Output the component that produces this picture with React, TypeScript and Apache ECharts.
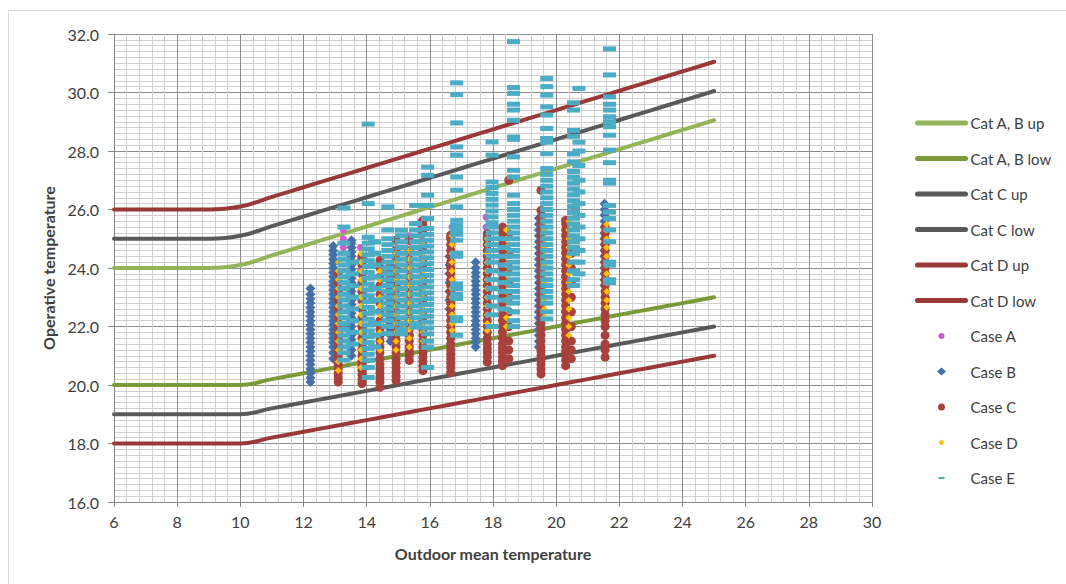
import React, { useEffect, useRef } from "react";
import * as echarts from "echarts";

// ---- Comfort category lines (x = outdoor running mean temperature) ----
const lineX = [6, 7, 8, 9, 10, 11, 12, 13, 14, 15, 16, 17, 18, 19, 20, 21, 22, 23, 24, 25];
const catABup = [24, 24, 24, 24, 24.1, 24.43, 24.76, 25.09, 25.42, 25.75, 26.08, 26.41, 26.74, 27.07, 27.4, 27.73, 28.06, 28.39, 28.72, 29.05];
const catABlow = [20, 20, 20, 20, 20, 20.2, 20.4, 20.6, 20.8, 21.0, 21.2, 21.4, 21.6, 21.8, 22.0, 22.2, 22.4, 22.6, 22.8, 23.0];
const catCup = [25, 25, 25, 25, 25.1, 25.43, 25.76, 26.09, 26.42, 26.75, 27.08, 27.41, 27.74, 28.07, 28.4, 28.73, 29.06, 29.39, 29.72, 30.05];
const catClow = [19, 19, 19, 19, 19, 19.2, 19.4, 19.6, 19.8, 20.0, 20.2, 20.4, 20.6, 20.8, 21.0, 21.2, 21.4, 21.6, 21.8, 22.0];
const catDup = [26, 26, 26, 26, 26.1, 26.43, 26.76, 27.09, 27.42, 27.75, 28.08, 28.41, 28.74, 29.07, 29.4, 29.73, 30.06, 30.39, 30.72, 31.05];
const catDlow = [18, 18, 18, 18, 18, 18.2, 18.4, 18.6, 18.8, 19.0, 19.2, 19.4, 19.6, 19.8, 20.0, 20.2, 20.4, 20.6, 20.8, 21.0];

// ---- Measured cases: [outdoor mean temperature, operative temperatures] ----
type Col = [number, number[]];

const caseA: Col[] = [
  [13.26, [25.3, 25.0, 24.7]],
  [13.8, [24.7, 24.3, 23.9]],
  [13.95, [24.26]],
  [14.5, [24.0, 23.9]],
  [15.35, [25.1, 24.9]],
  [15.72, [25.6, 25.4, 25.2]],
  [16.7, [25.4, 25.2]],
  [17.78, [25.74, 25.4, 25.06]],
];

const caseB: Col[] = [
  [12.22, [20.1, 20.25, 20.4, 20.55, 20.7, 20.85, 21.0, 21.15, 21.3, 21.45, 21.6, 21.75, 21.9, 22.05, 22.2, 22.35, 22.5, 22.65, 22.8, 22.95, 23.1, 23.3]],
  [12.94, [20.9, 21.1, 21.3, 21.45, 21.6, 21.75, 21.9, 22.05, 22.2, 22.35, 22.5, 22.65, 22.8, 22.95, 23.1, 23.25, 23.4, 23.55, 23.7, 23.85, 24.0, 24.15, 24.3, 24.45, 24.6, 24.75]],
  [13.52, [21.0, 21.2, 21.4, 21.55, 21.7, 21.85, 22.0, 22.15, 22.3, 22.45, 22.6, 22.75, 22.9, 23.05, 23.2, 23.35, 23.5, 23.65, 23.8, 23.95, 24.1, 24.25, 24.4, 24.55, 24.7, 24.85, 24.95]],
  [14.75, [21.5, 21.7, 21.9, 22.1, 22.3, 22.5, 22.7, 22.9, 23.1, 23.3, 23.5, 23.7, 23.9, 24.1]],
  [16.62, [22.6, 22.9, 23.2, 23.5, 23.8, 24.1, 24.4]],
  [17.45, [21.3, 21.45, 21.6, 21.75, 21.9, 22.05, 22.2, 22.35, 22.5, 22.65, 22.8, 22.95, 23.1, 23.25, 23.4, 23.55, 23.7, 23.85, 24.0, 24.2]],
  [19.45, [21.3, 21.5, 21.7, 21.9, 22.1, 22.3, 22.5, 22.7, 22.9, 23.1, 23.3, 23.5, 23.7, 23.9, 24.1, 24.3, 24.5, 24.7, 24.9, 25.1, 25.3, 25.5, 25.7]],
  [21.53, [23.4, 23.6, 23.8, 24.0, 24.2, 24.4, 24.6, 24.8, 25.0, 25.2, 25.4, 25.6, 25.8, 26.0, 26.2]],
];

const caseC: Col[] = [
  [13.1, [20.1, 20.25, 20.4, 20.55, 20.7, 20.85, 21.0, 21.2, 21.4, 21.6, 21.8, 22.0, 22.3, 22.6, 22.9, 23.2, 23.5, 23.8]],
  [13.85, [20.05, 20.2, 20.35, 20.5, 20.65, 20.8, 21.0, 21.2, 21.4, 21.6, 21.8, 22.0, 22.3, 22.6, 22.9, 23.2, 23.5, 23.8, 24.1, 24.4]],
  [14.42, [19.92, 20.1, 20.25, 20.4, 20.55, 20.7, 20.9, 21.1, 21.3, 21.5, 21.7, 21.9, 22.2, 22.5, 22.8, 23.1, 23.4, 23.7, 24.0, 24.26]],
  [14.93, [20.15, 20.3, 20.45, 20.6, 20.75, 20.9, 21.1, 21.3, 21.5, 21.7, 21.9, 22.2, 22.5, 22.8, 23.1, 23.4, 23.7, 24.0, 24.3, 24.6, 24.95]],
  [15.35, [20.84, 21.0, 21.15, 21.3, 21.5, 21.7, 21.9, 22.2, 22.5, 22.8, 23.1, 23.4, 23.7, 24.0, 24.3, 24.6, 24.95]],
  [15.78, [20.49, 20.65, 20.8, 20.95, 21.1, 21.3, 21.5, 21.7, 21.9, 22.2, 22.5, 22.8, 23.1, 23.4, 23.7, 24.0, 24.3, 24.6, 24.9, 25.2, 25.45, 25.63]],
  [16.66, [20.43, 20.6, 20.75, 20.9, 21.05, 21.2, 21.4, 21.6, 21.8, 22.0, 22.2, 22.4, 22.6, 22.8, 23.0, 23.2, 23.4, 23.6, 23.8, 24.0, 24.2, 24.4, 24.6, 24.8, 25.0, 25.12]],
  [17.82, [20.78, 20.95, 21.1, 21.25, 21.4, 21.6, 21.8, 22.0, 22.2, 22.4, 22.6, 22.8, 23.0, 23.2, 23.4, 23.6, 23.8, 24.0, 24.2, 24.4, 24.6, 24.8, 25.0, 25.18]],
  [18.3, [20.66, 20.8, 20.95, 21.1, 21.25, 21.4, 21.6, 21.8, 22.0, 22.2, 22.4, 22.6, 22.8, 23.0, 23.2, 23.4, 23.6, 23.8, 24.0, 24.2, 24.4, 24.6, 24.8, 25.0, 25.2, 25.4]],
  [18.5, [20.9, 21.2, 21.5, 22.0, 22.5, 23.0, 23.5, 24.0, 24.5, 25.17, 27.0]],
  [19.52, [20.38, 20.55, 20.7, 20.85, 21.0, 21.15, 21.3, 21.5, 21.7, 21.9, 22.1, 22.3, 22.5, 22.7, 22.9, 23.1, 23.3, 23.5, 23.7, 23.9, 24.1, 24.3, 24.5, 24.7, 24.9, 25.1, 25.3, 25.5, 25.7, 25.97, 26.66]],
  [20.3, [20.66, 20.85, 21.0, 21.15, 21.3, 21.5, 21.7, 21.9, 22.1, 22.3, 22.5, 22.7, 22.9, 23.1, 23.3, 23.5, 23.7, 23.9, 24.1, 24.3, 24.5, 24.7, 24.9, 25.1, 25.3, 25.5, 25.63]],
  [20.48, [20.9, 21.2, 21.5, 22.0, 22.5, 23.0, 23.5, 24.0, 24.5, 25.0]],
  [21.55, [20.95, 21.2, 21.4, 21.7, 22.0, 22.2, 22.4, 22.6, 22.8, 23.0, 23.2, 23.4, 23.6, 23.8, 24.0, 24.2, 24.4, 24.6, 24.8, 25.0, 25.2, 25.4]],
];

const caseD: Col[] = [
  [13.1, [20.5, 20.8, 21.2, 21.5, 21.8, 22.1, 22.4, 22.7, 23.0, 23.3, 23.6, 23.9, 24.2]],
  [13.82, [20.6, 20.9, 21.2, 21.5, 21.8, 22.1, 22.4, 22.7, 23.0, 23.3, 23.6, 23.9, 24.2, 24.5]],
  [14.42, [21.2, 21.5, 21.8, 22.1, 22.4, 22.7, 23.0, 23.3, 23.6, 23.9]],
  [14.93, [21.2, 21.5, 21.8, 22.1, 22.4, 22.7, 23.0, 23.3, 23.6, 23.9, 24.2, 24.5]],
  [15.35, [21.3, 21.6, 21.9, 22.2, 22.5, 22.8, 23.1, 23.4, 23.7, 24.0, 24.3, 24.6]],
  [15.78, [21.5, 21.8, 22.1, 22.4, 22.7, 23.0, 23.3, 23.6, 23.9, 24.2, 24.5, 24.8]],
  [16.7, [21.86, 22.1, 22.4, 22.7, 23.0, 23.3, 23.6, 23.9, 24.2, 24.5, 24.8, 25.1]],
  [17.82, [21.86, 22.1, 22.4, 22.7, 23.0, 23.3, 23.6, 23.9, 24.2, 24.5, 24.8, 25.0]],
  [18.42, [22.0, 22.3, 22.6, 22.9, 23.2, 23.5, 23.8, 24.1, 24.4, 24.7, 25.0, 25.3]],
  [19.62, [22.32, 22.6, 22.9, 23.2, 23.5, 23.8, 24.1, 24.4, 24.7, 25.0, 25.3, 25.6]],
  [20.4, [21.7, 22.0, 22.3, 22.6, 22.9, 23.2, 23.5, 23.8, 24.1, 24.4, 24.7, 25.0, 25.3, 25.6]],
  [21.6, [22.66, 22.9, 23.2, 23.5, 23.8, 24.1, 24.4, 24.7, 25.0, 25.3, 25.5]],
];

const caseE: Col[] = [
  [13.28, [26.05, 25.4, 24.85, 24.5, 24.3, 24.1, 23.9, 23.7, 23.5, 23.3, 23.1, 22.9, 22.7, 22.5, 22.3, 22.1, 21.9, 21.7, 21.5, 21.3, 21.1, 20.85]],
  [13.55, [24.2, 23.8, 23.4, 23.0, 22.6, 22.2, 21.8, 21.4]],
  [14.05, [28.92, 26.2, 25.05, 24.85, 24.65, 24.45, 24.25, 24.05, 23.85, 23.65, 23.45, 23.25, 23.05, 22.85, 22.65, 22.45, 22.25, 22.05, 21.85, 21.65, 21.45, 21.25, 21.05, 20.85, 20.6, 20.26]],
  [14.25, [24.9, 24.5, 24.1, 23.7, 23.3, 22.9, 22.5, 22.1, 21.7, 21.3]],
  [14.67, [26.09, 25.3, 25.0, 24.8, 24.6, 24.4, 24.2, 24.0, 23.8, 23.6, 23.4, 23.2, 23.0, 22.8, 22.6, 22.4, 22.2, 22.0, 21.76]],
  [15.1, [25.29, 25.1, 24.9, 24.7, 24.5, 24.3, 24.1, 23.9, 23.7, 23.5, 23.3, 23.1, 22.9, 22.7, 22.5, 22.3, 22.1, 21.9, 21.75]],
  [15.55, [26.14, 25.52, 25.3, 25.1, 24.9, 24.7, 24.5, 24.3, 24.1, 23.9, 23.7, 23.5, 23.3, 23.1, 22.9, 22.7, 22.5, 22.3, 22.1, 21.98]],
  [15.93, [27.45, 27.17, 26.49, 26.14, 25.69, 25.35, 25.15, 24.95, 24.75, 24.55, 24.35, 24.15, 23.95, 23.75, 23.55, 23.35, 23.15, 22.95, 22.75, 22.55, 22.35, 22.15, 21.95, 21.75, 21.5, 21.29, 20.6]],
  [16.85, [30.33, 29.93, 28.96, 28.14, 27.86, 27.11, 26.66, 26.09, 25.63, 25.46, 25.3, 25.15, 24.95, 24.5, 24.4, 23.46, 23.3, 23.1, 22.96, 22.3, 22.2, 21.7]],
  [17.97, [28.31, 27.86, 26.94, 26.75, 26.55, 26.35, 26.15, 25.95, 25.75, 25.55, 25.4, 25.2, 25.0, 24.8, 24.6, 24.4, 24.2, 23.9, 23.6, 23.3, 23.0, 22.7, 22.4, 22.0]],
  [18.35, [25.0, 24.7, 24.4, 24.1, 23.8, 23.5, 23.2, 22.9, 22.6]],
  [18.65, [31.74, 30.17, 29.97, 29.6, 29.4, 29.05, 28.48, 28.4, 27.8, 27.34, 27.11, 26.49, 26.2, 26.0, 25.8, 25.6, 25.4, 25.2, 25.0, 24.8, 24.6, 24.4, 24.2, 24.0, 23.8, 23.6, 23.4, 23.2, 23.0, 22.8, 22.5, 22.2, 22.0]],
  [19.7, [30.48, 30.2, 29.91, 29.51, 29.23, 28.77, 28.43, 28.3, 27.91, 27.4, 27.2, 27.0, 26.8, 26.6, 26.4, 26.2, 26.0, 25.8, 25.6, 25.4, 25.2, 25.0, 24.8, 24.6, 24.4, 24.2, 24.0, 23.8, 23.6, 23.4, 23.2, 23.0, 22.8, 22.5, 22.26]],
  [20.55, [29.65, 29.4, 28.7, 28.5, 27.9, 27.63, 27.3, 27.1, 26.9, 26.7, 26.5, 26.3, 26.1, 25.9, 25.7, 25.5, 25.3, 25.1, 24.9, 24.7, 24.5, 24.2, 23.9, 23.6, 23.4]],
  [20.72, [30.14, 28.3, 28.0, 27.5, 27.0, 26.6, 26.2, 25.8, 25.4, 25.0, 24.6, 24.2, 23.8]],
  [21.69, [31.49, 30.6, 29.85, 29.6, 29.4, 29.17, 29.0, 28.83, 28.54, 28.03, 27.6, 27.0, 26.9, 26.14, 25.91, 25.69, 25.3, 24.9, 24.2, 24.1, 23.6, 23.5]],
];

const xTicks = { min: 6, max: 30, interval: 2 };
const yTicks = { min: 16, max: 32, interval: 2 };

const FONT = "Lato, 'Noto Sans', sans-serif";
const TEXT = "#404040";

const toPoints = (cols: Col[]) => cols.flatMap(([x, ys]) => ys.map((y) => [x, y]));
const toLine = (ys: number[]) => lineX.map((x, i) => [x, ys[i]]);

export default function App() {
  const ref = useRef<HTMLDivElement>(null);

  useEffect(() => {
    if (!ref.current) return;
    const chart = echarts.init(ref.current, undefined, { renderer: "svg" });

    const lineSeries = (name: string, ys: number[], color: string) => ({
      name,
      type: "line",
      data: toLine(ys),
      smooth: 0.4,
      symbol: "none",
      showSymbol: false,
      lineStyle: { width: 4, color, cap: "round" },
      itemStyle: { color },
      z: 2,
    });

    const scatter = (name: string, cols: Col[], color: string, symbol: string, size: any) => ({
      name,
      type: "scatter",
      data: toPoints(cols),
      symbol,
      symbolSize: size,
      itemStyle: { color, opacity: 1 },
      z: 3,
    });

    const legendIcons: Record<string, string> = {
      "Case A": "path://M0,0M48,8M21,4A3,3,0,1,1,27,4A3,3,0,1,1,21,4Z",
      "Case B": "path://M0,0M48,8M24,0L28.5,4L24,8L19.5,4Z",
      "Case C": "path://M0,0M48,8M20.5,4A3.5,3.5,0,1,1,27.5,4A3.5,3.5,0,1,1,20.5,4Z",
      "Case D": "path://M0,0M48,8M24,1L27,4L24,7L21,4Z",
      "Case E": "path://M0,0M48,8M21,3H27V5H21Z",
    };
    const lineNames = ["Cat A, B up", "Cat A, B low", "Cat C up", "Cat C low", "Cat D up", "Cat D low"];
    const caseNames = ["Case A", "Case B", "Case C", "Case D", "Case E"];

    chart.setOption({
      animation: false,
      backgroundColor: "#ffffff",
      textStyle: { fontFamily: FONT },
      grid: { left: 114, right: 194, top: 34, bottom: 82, containLabel: false },
      legend: {
        orient: "vertical",
        left: 910,
        top: 110.5,
        padding: 5,
        itemWidth: 48,
        itemHeight: 8,
        itemGap: 20.5,
        textStyle: { fontSize: 15, color: TEXT, fontFamily: FONT },
        data: [
          ...lineNames.map((n) => ({
            name: n,
            itemStyle: { color: "rgba(0,0,0,0)", opacity: 0, borderWidth: 0 },
            lineStyle: { width: 5, cap: "round" },
          })),
          ...caseNames.map((n) => ({ name: n, icon: legendIcons[n] })),
        ],
      },
      xAxis: {
        type: "value",
        min: xTicks.min,
        max: xTicks.max,
        interval: xTicks.interval,
        name: "Outdoor mean temperature",
        nameLocation: "middle",
        nameGap: 43,
        nameTextStyle: { fontSize: 16, fontWeight: "bold", color: TEXT, fontFamily: FONT },
        axisLine: { show: true, lineStyle: { color: "#868686", width: 1 } },
        axisTick: { show: true, length: 5, lineStyle: { color: "#868686" } },
        axisLabel: { fontSize: 16, color: TEXT, margin: 11, fontFamily: FONT },
        splitLine: { show: true, lineStyle: { color: "#8C8C8C", width: 1 } },
        minorTick: { show: false, splitNumber: 5 },
        minorSplitLine: { show: true, lineStyle: { color: "#D0D0D0", width: 1 } },
      },
      yAxis: {
        type: "value",
        min: yTicks.min,
        max: yTicks.max,
        interval: yTicks.interval,
        name: "Operative temperature",
        nameLocation: "middle",
        nameGap: 58,
        nameTextStyle: { fontSize: 16, fontWeight: "bold", color: TEXT, fontFamily: FONT },
        axisLine: { show: true, lineStyle: { color: "#868686", width: 1 } },
        axisTick: { show: true, length: 6, lineStyle: { color: "#868686" } },
        axisLabel: { fontSize: 16, color: TEXT, margin: 15, fontFamily: FONT, formatter: (v: number) => v.toFixed(1) },
        splitLine: { show: true, lineStyle: { color: "#8C8C8C", width: 1 } },
        minorTick: { show: false, splitNumber: 10 },
        minorSplitLine: { show: true, lineStyle: { color: "#D0D0D0", width: 1 } },
      },
      graphic: [
        {
          type: "rect",
          shape: { x: 8.5, y: 10.5, width: 1100, height: 620 },
          style: { fill: "none", stroke: "#D9D9D9", lineWidth: 1 },
          silent: true,
          z: -10,
        },
      ],
      series: [
        lineSeries("Cat A, B up", catABup, "#93B458"),
        lineSeries("Cat A, B low", catABlow, "#7A9A3A"),
        lineSeries("Cat C up", catCup, "#595959"),
        lineSeries("Cat C low", catClow, "#595959"),
        lineSeries("Cat D up", catDup, "#993836"),
        lineSeries("Cat D low", catDlow, "#993836"),
        scatter("Case A", caseA, "#D25BD0", "circle", 7),
        scatter("Case B", caseB, "#4470A8", "diamond", 10),
        scatter("Case C", caseC, "#A8403C", "circle", 9),
        scatter("Case D", caseD, "#FFC000", "diamond", 7),
        scatter("Case E", caseE, "#4BACC6", "rect", [13, 5]),
      ],
    });

    return () => chart.dispose();
  }, []);

  return (
    <div
      ref={ref}
      style={{ position: "fixed", left: 0, top: 0, width: 1066, height: 584, background: "#fff" }}
    />
  );
}
